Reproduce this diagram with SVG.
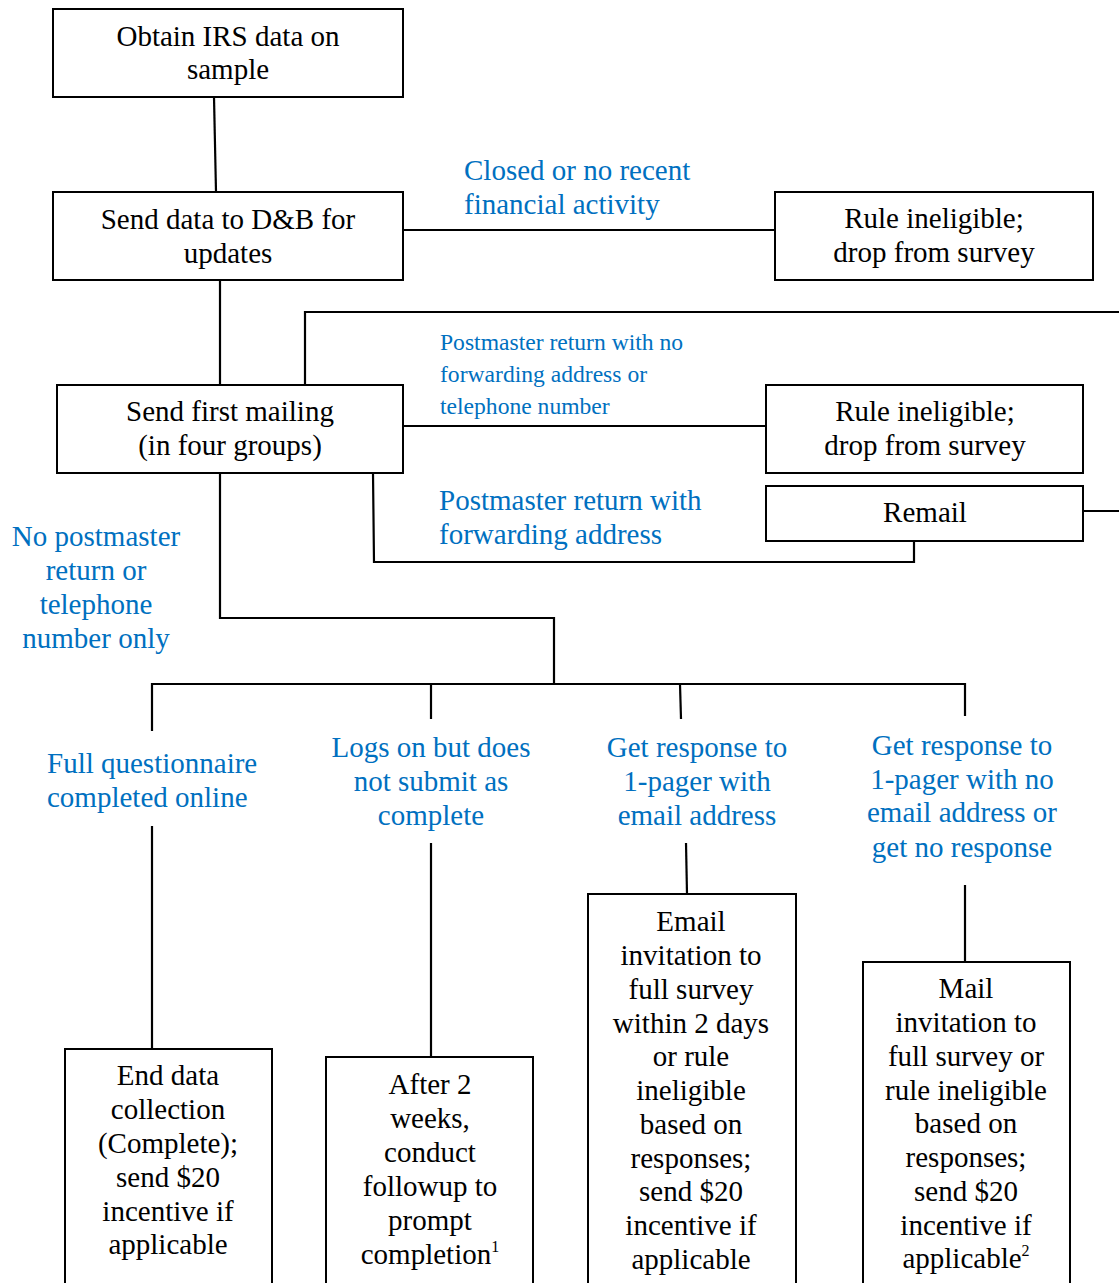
<svg xmlns="http://www.w3.org/2000/svg" width="1119" height="1283" viewBox="0 0 1119 1283">
<style>
.box{fill:#fff;stroke:#000;stroke-width:2}
.ln{fill:none;stroke:#000;stroke-width:2.2}
text{font-family:"Liberation Serif","Times New Roman",serif;font-size:29px}
.t{fill:#000;text-anchor:middle}
.b{fill:#0070C0}
.bc{fill:#0070C0;text-anchor:middle}
.sm{font-size:23.6px}
.sup{font-size:16px}
</style>
<rect width="1119" height="1283" fill="#fff"/>
<g id="connectors">
<path class="ln" d="M214,97 L216,192"/>
<path class="ln" d="M403,230 H775"/>
<path class="ln" d="M220,280 V385"/>
<path class="ln" d="M305,385 V312 H1119"/>
<path class="ln" d="M403,426 H766"/>
<path class="ln" d="M1083,511 H1119"/>
<path class="ln" d="M373,473 L374,562 H914 V541"/>
<path class="ln" d="M220,473 V618 H554 V684"/>
<path class="ln" d="M152,731 V684 H965 V716"/>
<path class="ln" d="M431,684 V719"/>
<path class="ln" d="M680,684 L681,719"/>
<path class="ln" d="M152,826 V1049"/>
<path class="ln" d="M431,843 V1057"/>
<path class="ln" d="M686,843 L687,894"/>
<path class="ln" d="M965,885 V962"/>
</g>
<g id="labels">
<text class="b" x="464" y="180">Closed or no recent</text>
<text class="b" x="464" y="214">financial activity</text>
<text class="b sm" x="440" y="350">Postmaster return with no</text>
<text class="b sm" x="440" y="382">forwarding address or</text>
<text class="b sm" x="440" y="414">telephone number</text>
<text class="b" x="439" y="510">Postmaster return with</text>
<text class="b" x="439" y="544">forwarding address</text>
<text class="bc" x="96" y="546">No postmaster</text>
<text class="bc" x="96" y="580">return or</text>
<text class="bc" x="96" y="614">telephone</text>
<text class="bc" x="96" y="648">number only</text>
<text class="b" x="47" y="773">Full questionnaire</text>
<text class="b" x="47" y="807">completed online</text>
<text class="bc" x="431" y="757">Logs on but does</text>
<text class="bc" x="431" y="791">not submit as</text>
<text class="bc" x="431" y="825">complete</text>
<text class="bc" x="697" y="757">Get response to</text>
<text class="bc" x="697" y="791">1-pager with</text>
<text class="bc" x="697" y="825">email address</text>
<text class="bc" x="962" y="755">Get response to</text>
<text class="bc" x="962" y="789">1-pager with no</text>
<text class="bc" x="962" y="822">email address or</text>
<text class="bc" x="962" y="857">get no response</text>
</g>
<g id="n1"><rect class="box" x="53" y="9" width="350" height="88"/>
<text class="t" x="228" y="46">Obtain IRS data on</text><text class="t" x="228" y="79">sample</text></g>
<g id="n2"><rect class="box" x="53" y="192" width="350" height="88"/>
<text class="t" x="228" y="229">Send data to D&amp;B for</text><text class="t" x="228" y="263">updates</text></g>
<g id="n3"><rect class="box" x="775" y="192" width="318" height="88"/>
<text class="t" x="934" y="228">Rule ineligible;</text><text class="t" x="934" y="262">drop from survey</text></g>
<g id="n4"><rect class="box" x="57" y="385" width="346" height="88"/>
<text class="t" x="230" y="421">Send first mailing</text><text class="t" x="230" y="455">(in four groups)</text></g>
<g id="n5"><rect class="box" x="766" y="385" width="317" height="88"/>
<text class="t" x="925" y="421">Rule ineligible;</text><text class="t" x="925" y="455">drop from survey</text></g>
<g id="n6"><rect class="box" x="766" y="486" width="317" height="55"/>
<text class="t" x="925" y="522">Remail</text></g>
<g id="n7"><rect class="box" x="65" y="1049" width="207" height="250"/>
<text class="t" x="168" y="1085">End data</text><text class="t" x="168" y="1119">collection</text><text class="t" x="168" y="1153">(Complete);</text><text class="t" x="168" y="1187">send $20</text><text class="t" x="168" y="1221">incentive if</text><text class="t" x="168" y="1254">applicable</text></g>
<g id="n8"><rect class="box" x="326" y="1057" width="207" height="250"/>
<text class="t" x="430" y="1094">After 2</text><text class="t" x="430" y="1128">weeks,</text><text class="t" x="430" y="1162">conduct</text><text class="t" x="430" y="1196">followup to</text><text class="t" x="430" y="1230">prompt</text><text class="t" x="430" y="1264">completion<tspan class="sup" dy="-12">1</tspan></text></g>
<g id="n9"><rect class="box" x="588" y="894" width="208" height="410"/>
<text class="t" x="691" y="931">Email</text><text class="t" x="691" y="965">invitation to</text><text class="t" x="691" y="999">full survey</text><text class="t" x="691" y="1033">within 2 days</text><text class="t" x="691" y="1066">or rule</text><text class="t" x="691" y="1100">ineligible</text><text class="t" x="691" y="1134">based on</text><text class="t" x="691" y="1168">responses;</text><text class="t" x="691" y="1201">send $20</text><text class="t" x="691" y="1235">incentive if</text><text class="t" x="691" y="1269">applicable</text></g>
<g id="n10"><rect class="box" x="863" y="962" width="207" height="340"/>
<text class="t" x="966" y="998">Mail</text><text class="t" x="966" y="1032">invitation to</text><text class="t" x="966" y="1066">full survey or</text><text class="t" x="966" y="1100">rule ineligible</text><text class="t" x="966" y="1133">based on</text><text class="t" x="966" y="1167">responses;</text><text class="t" x="966" y="1201">send $20</text><text class="t" x="966" y="1235">incentive if</text><text class="t" x="966" y="1268">applicable<tspan class="sup" dy="-12">2</tspan></text></g>
</svg>
